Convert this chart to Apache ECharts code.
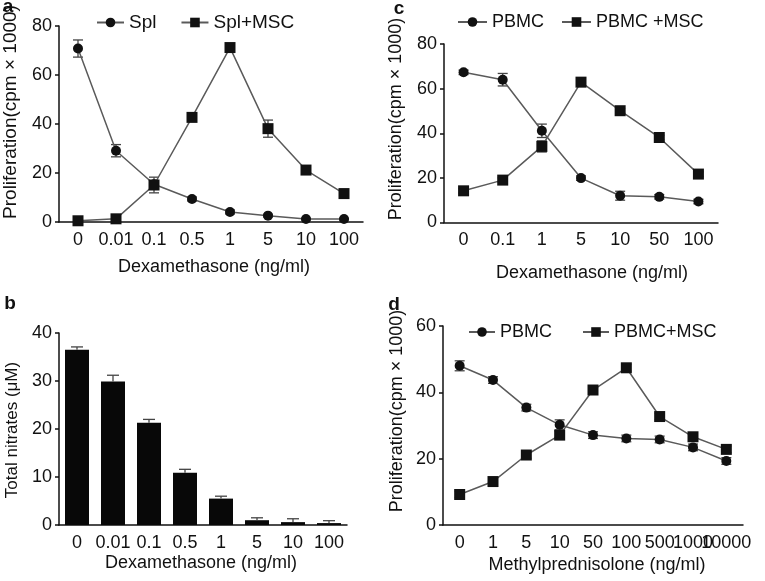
<!DOCTYPE html>
<html><head><meta charset="utf-8">
<script src="https://cdn.jsdelivr.net/npm/echarts@6/dist/echarts.min.js"></script>
<style>html,body{margin:0;padding:0;background:#fff}#c{width:765px;height:581px}</style>
</head><body><div id="c"></div>
<script>
// Panel a
const catsA = ['0', '0.01', '0.1', '0.5', '1', '5', '10', '100'];
const splA = [70.8, 29.1, 15.4, 9.4, 4.1, 2.6, 1.2, 1.2];
const splErrA = [3.5, 2.5, 1.5, 0.8, 0.8, 0.5, 0.3, 0.3];
const splMscA = [0.5, 1.3, 15.1, 42.7, 71.2, 38.1, 21.2, 11.6];
const splMscErrA = [0.5, 0.5, 3.2, 0.8, 1.0, 3.5, 1.0, 1.0];
const yTicksA = [0, 20, 40, 60, 80];
// Panel b
const catsB = ['0', '0.01', '0.1', '0.5', '1', '5', '10', '100'];
const nitratesB = [36.5, 29.9, 21.3, 10.9, 5.5, 1.0, 0.6, 0.4];
const nitratesErrB = [0.6, 1.3, 0.7, 0.7, 0.5, 0.5, 0.7, 0.5];
const yTicksB = [0, 10, 20, 30, 40];
// Panel c
const catsC = ['0', '0.1', '1', '5', '10', '50', '100'];
const pbmcC = [67.3, 64.0, 41.1, 19.9, 12.0, 11.5, 9.4];
const pbmcErrC = [1.0, 2.8, 3.0, 1.0, 2.0, 1.0, 1.0];
const pbmcMscC = [14.2, 19.0, 34.1, 62.9, 50.1, 38.1, 21.7];
const pbmcMscErrC = [1.0, 1.0, 2.5, 1.5, 1.0, 1.0, 1.0];
const yTicksC = [0, 20, 40, 60, 80];
// Panel d
const catsD = ['0', '1', '5', '10', '50', '100', '500', '1000', '10000'];
const pbmcD = [48.0, 43.7, 35.4, 30.2, 27.1, 26.1, 25.8, 23.4, 19.3];
const pbmcErrD = [1.5, 1.0, 1.0, 1.5, 1.0, 1.0, 1.0, 1.0, 1.0];
const pbmcMscD = [9.2, 13.1, 21.1, 27.1, 40.7, 47.4, 32.7, 26.6, 22.8];
const pbmcMscErrD = [1.0, 1.0, 1.0, 1.2, 1.0, 1.0, 1.0, 1.0, 1.0];
const yTicksD = [0, 20, 40, 60];

const FONT = '"Liberation Sans", Arial, sans-serif';
const INK = '#111';
const LINE = '#5a5a5a';

function errRender(capHalf, upOnly) {
  return function (params, api) {
    const x = api.value(0), v = api.value(1), e = api.value(2);
    const top = api.coord([x, v + e]);
    const bot = api.coord([x, upOnly ? v : v - e]);
    const style = { stroke: '#444', lineWidth: 1.3, fill: null };
    const children = [
      { type: 'line', shape: { x1: top[0], y1: top[1], x2: bot[0], y2: bot[1] }, style: style },
      { type: 'line', shape: { x1: top[0] - capHalf, y1: top[1], x2: top[0] + capHalf, y2: top[1] }, style: style }
    ];
    if (!upOnly) children.push({ type: 'line', shape: { x1: bot[0] - capHalf, y1: bot[1], x2: bot[0] + capHalf, y2: bot[1] }, style: style });
    return { type: 'group', children: children };
  };
}
function errData(vals, errs) { return vals.map((v, i) => [i, v, errs[i]]); }

function xAxis(idx, cats) {
  return {
    type: 'category', gridIndex: idx, data: cats, boundaryGap: true,
    axisLine: { lineStyle: { color: INK, width: 1.5 } },
    axisTick: { alignWithLabel: true, length: 4, lineStyle: { color: INK, width: 1.5 } },
    axisLabel: { interval: 0, hideOverlap: false, margin: 9, color: INK, fontSize: 18, fontFamily: FONT },
    splitLine: { show: false }
  };
}
function yAxis(idx, ticks) {
  return {
    type: 'value', gridIndex: idx, min: ticks[0], max: ticks[ticks.length - 1],
    interval: ticks[1] - ticks[0],
    axisLine: { show: true, lineStyle: { color: INK, width: 1.5 } },
    axisTick: { show: true, length: 4, lineStyle: { color: INK, width: 1.5 } },
    axisLabel: { margin: 7, color: INK, fontSize: 18, fontFamily: FONT },
    splitLine: { show: false }
  };
}
function lineSeries(name, idx, data, symbol, size) {
  return {
    type: 'line', name: name, xAxisIndex: idx, yAxisIndex: idx, data: data,
    symbol: symbol, symbolSize: size, z: 3,
    lineStyle: { color: LINE, width: 1.5 },
    itemStyle: { color: INK, borderWidth: 0 }
  };
}
function errSeries(idx, vals, errs, cap, upOnly) {
  return {
    type: 'custom', xAxisIndex: idx, yAxisIndex: idx, z: upOnly ? 4 : 2,
    renderItem: errRender(cap, upOnly), data: errData(vals, errs), silent: true
  };
}
function txt(x, y, s, size, opts) {
  return Object.assign({
    type: 'text', x: x, y: y,
    style: { text: s, fill: INK, font: (opts && opts.bold ? 'bold ' : '') + size + 'px ' + FONT, align: 'center', verticalAlign: 'middle' }
  }, opts && opts.rot ? { rotation: Math.PI / 2 } : {});
}
function legend(data, left, top, gap, w, fs) {
  return {
    data: data, left: left, top: top, orient: 'horizontal', padding: 0,
    itemGap: gap, itemWidth: w, itemHeight: 12,
    textStyle: { color: INK, fontSize: fs, fontFamily: FONT }
  };
}

const chart = echarts.init(document.getElementById('c'), null, { renderer: 'canvas' });
chart.setOption({
  animation: false,
  backgroundColor: '#fff',
  grid: [
    { left: 59, top: 26, width: 304, height: 196 },
    { left: 59, top: 333, width: 288, height: 192 },
    { left: 444, top: 44, width: 274, height: 178.5 },
    { left: 443, top: 326, width: 300, height: 199 }
  ],
  xAxis: [xAxis(0, catsA), xAxis(1, catsB), xAxis(2, catsC), xAxis(3, catsD)],
  yAxis: [yAxis(0, yTicksA), yAxis(1, yTicksB), yAxis(2, yTicksC), yAxis(3, yTicksD)],
  legend: [
    legend(['Spl', 'Spl+MSC'], 96, 13, 24, 27, 19),
    legend(['PBMC', 'PBMC +MSC'], 457, 13, 17, 29, 18),
    legend(['PBMC', 'PBMC+MSC'], 468, 323, 30, 26, 18)
  ],
  series: [
    errSeries(0, splA, splErrA, 5, false),
    errSeries(0, splMscA, splMscErrA, 5, false),
    lineSeries('Spl', 0, splA, 'circle', 10),
    lineSeries('Spl+MSC', 0, splMscA, 'rect', 11),
    {
      type: 'bar', xAxisIndex: 1, yAxisIndex: 1, data: nitratesB, barWidth: 24,
      itemStyle: { color: '#080808' }, z: 2
    },
    errSeries(1, nitratesB, nitratesErrB, 6, true),
    errSeries(2, pbmcC, pbmcErrC, 5, false),
    errSeries(2, pbmcMscC, pbmcMscErrC, 5, false),
    lineSeries('PBMC', 2, pbmcC, 'circle', 10),
    lineSeries('PBMC +MSC', 2, pbmcMscC, 'rect', 11),
    errSeries(3, pbmcD, pbmcErrD, 5, false),
    errSeries(3, pbmcMscD, pbmcMscErrD, 5, false),
    lineSeries('PBMC', 3, pbmcD, 'circle', 10),
    lineSeries('PBMC+MSC', 3, pbmcMscD, 'rect', 11)
  ],
  graphic: [
    txt(8, 7, 'a', 19, { bold: true }),
    txt(10, 304, 'b', 19, { bold: true }),
    txt(399, 9, 'c', 19, { bold: true }),
    txt(394, 305, 'd', 19, { bold: true }),
    txt(11, 112, 'Proliferation(cpm × 1000)', 19, { rot: true }),
    txt(12, 430, 'Total nitrates (μM)', 17, { rot: true }),
    txt(396, 119, 'Proliferation(cpm × 1000)', 18, { rot: true }),
    txt(397, 411, 'Proliferation(cpm × 1000)', 18, { rot: true }),
    txt(214, 267, 'Dexamethasone (ng/ml)', 18),
    txt(201, 563, 'Dexamethasone (ng/ml)', 18),
    txt(592, 273, 'Dexamethasone (ng/ml)', 18),
    txt(597, 565, 'Methylprednisolone (ng/ml)', 18)
  ]
});
</script>
</body></html>
